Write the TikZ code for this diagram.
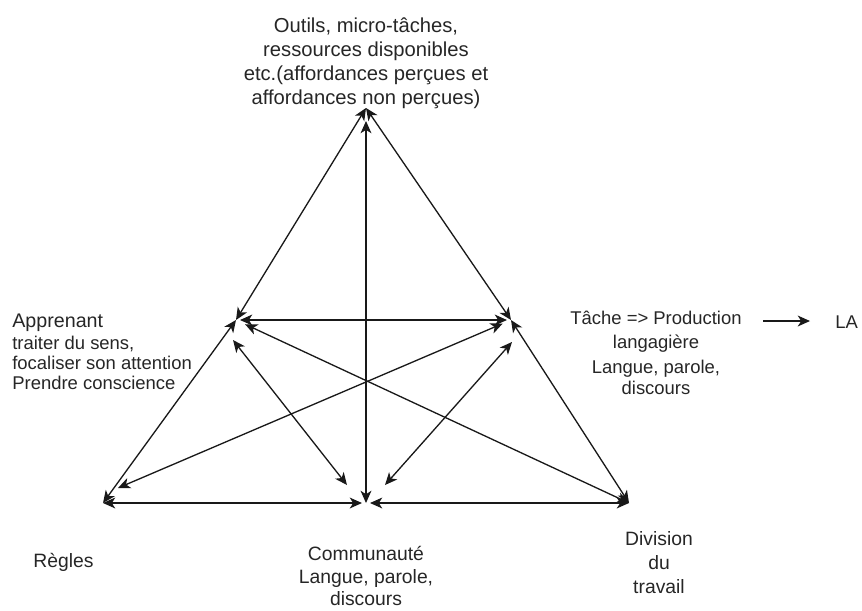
\documentclass[tikz,border=0pt]{standalone}
\usepackage{fontspec}
\setmainfont{Liberation Sans}
\usetikzlibrary{arrows.meta}
\begin{document}
\begin{tikzpicture}[x=0.02cm,y=-0.02cm,
  tip/.tip={Stealth[length=7pt,width=6.2pt,inset=2pt]},
  link/.style={draw=black!90, line width=0.75pt, tip-tip},
  oneway/.style={draw=black!90, line width=0.75pt, -tip},
  txt/.style={inner sep=0pt, anchor=base, text=black!85},
  big/.style={font=\fontsize{11.5}{13}\selectfont},
  mid/.style={font=\fontsize{11}{13}\selectfont},
  small/.style={font=\fontsize{10.5}{12}\selectfont}]
\useasboundingbox (0,0) rectangle (862,610);

% corners and meeting points of the triangle
\coordinate (T)  at (366,108);
\coordinate (L)  at (236,320);
\coordinate (R)  at (511,320);
\coordinate (BL) at (103,503);
\coordinate (BM) at (366,503);
\coordinate (BR) at (629,503);
% ends of the inner diagonals
\coordinate (Lin)  at (233,340);
\coordinate (Rin)  at (512,342);
\coordinate (BMl)  at (347,485);
\coordinate (BMr)  at (385,485);
\coordinate (BLin) at (118,488);
\coordinate (LAst) at (763,321);

% outer and inner connectors
\draw[link] (T) -- (L);
\draw[link] (T) -- (R);
\draw[link, shorten <=0.26cm] (T) -- (BM);
\draw[link, shorten <=0.08cm, shorten >=0.08cm] (L) -- (R);
\draw[link] (BL) -- (L);
\draw[link] (R) -- (BR);
\draw[link, shorten >=0.08cm] (BL) -- (BM);
\draw[link, shorten <=0.08cm] (BM) -- (BR);
\draw[link, shorten <=0.2cm] (L) -- (BR);
\draw[link, shorten <=0.18cm] (R) -- (BLin);
\draw[link] (Lin) -- (BMl);
\draw[link] (Rin) -- (BMr);

% top label
\node[txt,big] (top1) at (366,32) {Outils, micro-tâches,};
\node[txt,big] (top2) at (366,56) {ressources disponibles};
\node[txt,big] (top3) at (366,80) {etc.(affordances perçues et};
\node[txt,big] (top4) at (366,104) {affordances non perçues)};

% learner
\node[txt,font=\fontsize{11.2}{13}\selectfont,anchor=base west] (app1) at (12,327) {Apprenant};
\node[txt,small,anchor=base west] (app2) at (12,349) {traiter du sens,};
\node[txt,small,anchor=base west] (app3) at (12,369) {focaliser son attention};
\node[txt,small,anchor=base west] (app4) at (12,389) {Prendre conscience};

% task
\node[txt,small] (tache1) at (656,324) {Tâche => Production};
\node[txt,small] (tache2) at (656,348) {langagière};
\node[txt,small] (tache3) at (656,373) {Langue, parole,};
\node[txt,small] (tache4) at (656,394) {discours};
\node[txt,small,anchor=base west] (la) at (835,328) {LA};
\draw[oneway, shorten >=0.5cm] (LAst) -- (la.west |- LAst);

% base labels
\node[txt,mid,anchor=base west] (regles) at (33,567) {Règles};
\node[txt,mid] (com1) at (366,560) {Communauté};
\node[txt,mid] (com2) at (366,583) {Langue, parole,};
\node[txt,mid] (com3) at (366,605) {discours};
\node[txt,mid] (div1) at (659,545) {Division};
\node[txt,mid] (div2) at (659,569) {du};
\node[txt,mid] (div3) at (659,593) {travail};
\end{tikzpicture}
\end{document}
